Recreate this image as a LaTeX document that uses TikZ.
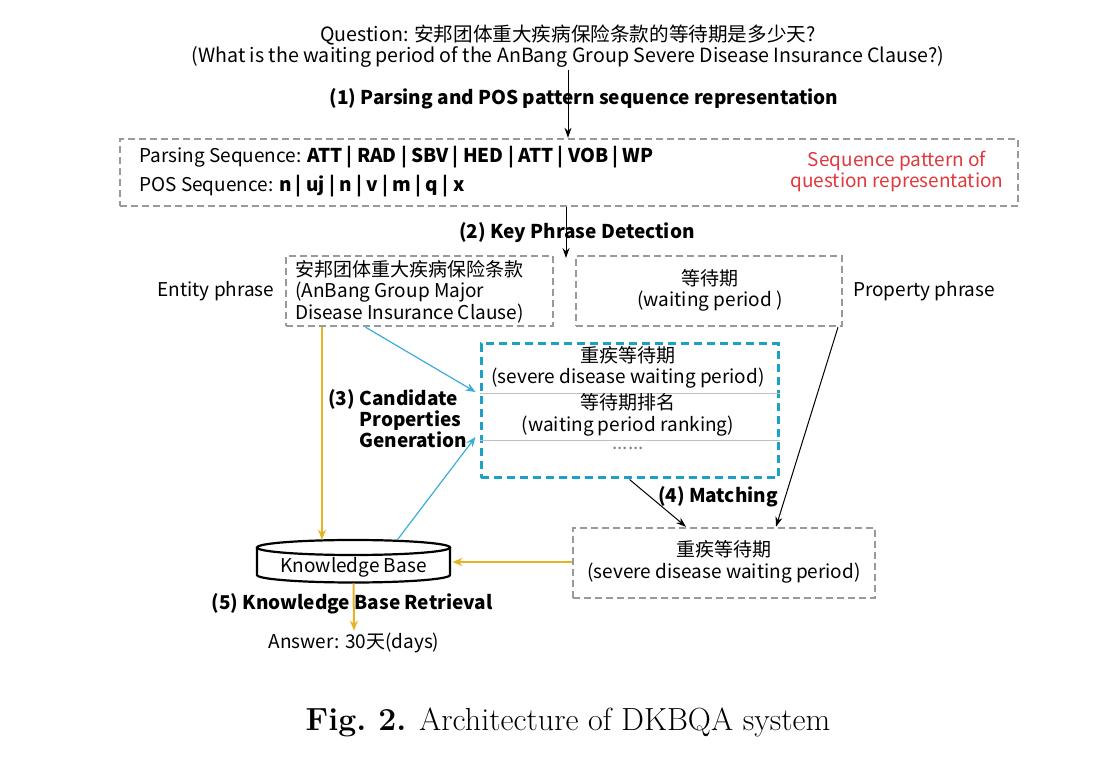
\documentclass[tikz,border=0pt]{standalone}
\usepackage{fontspec}
\newfontfamily\cjk{Noto Sans CJK SC}
\usetikzlibrary{arrows.meta,calc}
\definecolor{gbord}{HTML}{9A9A9A}
\definecolor{bbord}{HTML}{1CA0C4}
\definecolor{larrow}{HTML}{3AAED8}
\definecolor{yarrow}{HTML}{E6B422}
\definecolor{redtxt}{HTML}{E0383D}
\definecolor{sepline}{HTML}{C0C0C0}
\tikzset{
  txt/.style={font=\cjk\fontsize{9.5}{10.75}\selectfont, inner sep=1pt},
  btxt/.style={font=\cjk\bfseries\fontsize{9.5}{10.5}\selectfont, inner sep=1pt},
  gbox/.style={draw=gbord, line width=1.2pt, dash pattern=on 3.5pt off 2pt, minimum width=#1, inner sep=0pt},
  bbox/.style={draw=bbord, line width=1.5pt, dash pattern=on 4pt off 2.5pt, inner sep=0pt},
  blk/.style={draw=black, line width=0.5pt, -{Stealth[length=5pt,width=3.5pt]}},
  yel/.style={draw=yarrow, line width=1pt, -{Stealth[length=5pt,width=4pt]}},
  blu/.style={draw=larrow, line width=0.6pt, -{Stealth[length=5pt,width=4pt]}},
  kbline/.style={draw=black, line width=1.1pt},
}
\begin{document}
\begin{tikzpicture}[x=0.5pt,y=-0.5pt]
\useasboundingbox (0,0) rectangle (1108,763);
% question
\node[txt, font=\cjk\fontsize{9.8}{11}\selectfont] (q1) at (568,35) {Question: 安邦团体重大疾病保险条款的等待期是多少天?};
\node[txt, font=\cjk\fontsize{9.8}{11}\selectfont] (q2) at (568,57) {(What is the waiting period of the AnBang Group Severe Disease Insurance Clause?)};
% sequence box
\node[gbox=449pt, minimum height=33.5pt] (seq) at (569,172.5) {};
\node[txt, anchor=west] (ps) at (137,157) {Parsing Sequence: \textbf{ATT | RAD | SBV | HED | ATT | VOB | WP}};
\node[txt, anchor=west] (pos) at (137,186) {POS Sequence: \textbf{n | uj | n | v | m | q | x}};
\node[txt, text=redtxt, align=center, font=\cjk\fontsize{9.5}{10.5}\selectfont] (red) at (897,171.5) {Sequence pattern of\\question representation};
\draw[blk] (q2.south) -- (q2.south |- seq.north);
\node[btxt] (l1) at (584,99) {(1) Parsing and POS pattern sequence representation};
% key phrase
\coordinate (k2) at (566,258);
\draw[blk] ([xshift=-1.5pt]seq.south) -- (k2);
\node[btxt] (l2) at (577,233) {(2) Key Phrase Detection};
\node[gbox=133.5pt, minimum height=35pt] (ent) at (419.5,291) {};
\node[txt, anchor=west, align=left] (entt) at (293,291.5) {安邦团体重大疾病保险条款\\(AnBang Group Major\\Disease Insurance Clause)};
\node[gbox=133pt, minimum height=35pt] (prop) at (709,291) {};
\node[txt, align=center] (propt) at (710,290.5) {等待期\\(waiting period )};
\node[txt] (entl) at (216,291) {Entity phrase};
\node[txt] (propl) at (924,291) {Property phrase};
% candidates
\node[bbox, minimum width=148.5pt, minimum height=67pt] (cand) at (629.5,411) {};
\draw[sepline, line width=0.5pt] (cand.west |- 0,394) -- (cand.east |- 0,394);
\draw[sepline, line width=0.5pt] (cand.west |- 0,441) -- (cand.east |- 0,441);
\node[txt, align=center] (c1) at (628,367.5) {重疾等待期\\(severe disease waiting period)};
\node[txt, align=center] (c2) at (628,415) {等待期排名\\(waiting period ranking)};
\node[txt, text=gray] (c3) at (628,448) {......};
\node[btxt, anchor=west, align=left] (l3) at (357,419) {\llap{(3) }Candidate\\Properties\\Generation};
% result
\node[gbox=151pt, minimum height=35pt] (res) at (724,563) {};
\node[txt, align=center] (rest) at (724,562) {重疾等待期\\(severe disease waiting period)};
\node[btxt] (l4) at (718,497) {(4) Matching};
% knowledge base
\node[minimum width=96.5pt, minimum height=21.5pt, inner sep=0pt] (kb) at (353.5,561.5) {};
\draw[kbline] (353.5,547.5) ellipse [x radius=48.25pt, y radius=3.75pt];
\draw[kbline] (257,547.5) -- (257,575) arc[start angle=180, end angle=360, x radius=48.25pt, y radius=3.75pt] -- (450,547.5);
\node[txt] (kbt) at (353.5,567) {Knowledge Base};
\node[txt] (ans) at (354,643) {Answer: 30天(days)};
\node[btxt] (l5) at (352,604) {(5) Knowledge Base Retrieval};
% connectors
\draw[yel] ([xshift=-48.75pt]ent.south) -- ([xshift=-48.75pt]ent.south |- kb.north);
\draw[blu] ([xshift=-27pt]ent.south) -- ([yshift=9.5pt, xshift=-2pt]cand.west);
\draw[blu] ([xshift=22pt]kb.north) -- ([yshift=-13pt, xshift=-2pt]cand.west);
\draw[blk] (cand.south) -- ([xshift=-19pt]res.north);
\draw[blk] ([xshift=64.5pt]prop.south) -- ([xshift=26pt]res.north);
\draw[yel] (res.west |- 0,562) -- ([xshift=1pt]kb.east |- 0,562);
\draw[yel] (kb.south) -- (ans.north);
% caption
\node[font=\fontsize{16}{19}\selectfont] (cap) at (568,722) {\textbf{Fig.\ 2.} Architecture of DKBQA system};
\end{tikzpicture}
\end{document}
